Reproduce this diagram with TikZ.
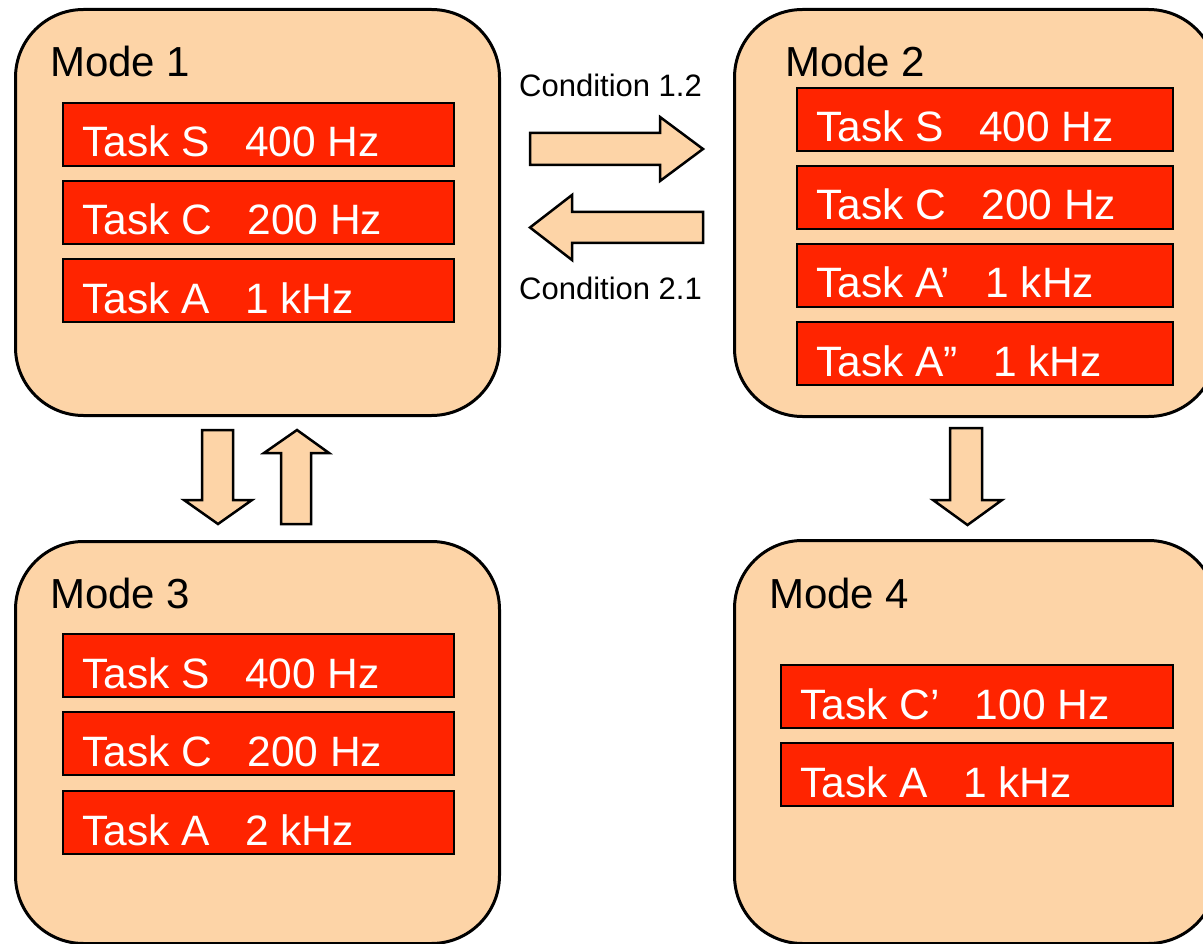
\documentclass[tikz,border=0pt]{standalone}
\usepackage{fontspec}
\setmainfont{Liberation Sans}
\definecolor{peach}{RGB}{253,212,167}
\definecolor{taskred}{RGB}{255,36,0}
\tikzset{
  modebox/.style={draw=black, fill=peach, line width=3pt, rounded corners=68pt, anchor=north west, inner sep=0pt},
  modelabel/.style={anchor=base west, inner sep=0pt, font=\fontsize{42}{50}\selectfont},
  taskbox/.style={draw=black, fill=taskred, line width=2pt, minimum height=63pt, anchor=north west, inner sep=0pt},
  tasktext/.style={anchor=base west, inner sep=0pt, text=white, font=\fontsize{42.5}{50}\selectfont},
  condlabel/.style={anchor=base west, inner sep=0pt, font=\fontsize{31}{36}\selectfont},
  blockarrow/.style={draw=black, fill=peach, line width=2.5pt, line join=miter}
}
\newcommand{\taskbox}[5]{%
  \node[taskbox, minimum width=#4pt] (#1) at (#2,#3) {};
  \node[tasktext] (#1t) at ([shift={(20,-10)}]#1.south west) {#5};
}
\begin{document}
\begin{tikzpicture}[x=1pt,y=-1pt]
\useasboundingbox (0,0) rectangle (1203,944);
\clip (0,0) rectangle (1203,944);
\fill[white] (0,0) rectangle (1203,944);

% mode boxes
\node[modebox, minimum width=484pt, minimum height=406pt] (m1) at (14,8) {};
\node[modebox, minimum width=482pt, minimum height=407pt] (m2) at (733,8) {};
\node[modebox, minimum width=484pt, minimum height=402pt] (m3) at (14,540) {};
\node[modebox, minimum width=482pt, minimum height=403pt] (m4) at (733,539) {};

\node[modelabel] (m1l) at (50,77) {Mode 1};
\node[modelabel] (m2l) at (785,77) {Mode 2};
\node[modelabel] (m3l) at (50,608) {Mode 3};
\node[modelabel] (m4l) at (769,608) {Mode 4};

% Mode 1 tasks
\taskbox{t1s}{62}{102}{391}{Task S\ \ \ 400 Hz}
\taskbox{t1c}{62}{180}{391}{Task C\ \ \ 200 Hz}
\taskbox{t1a}{62}{258}{391}{Task A\ \ \ 1 kHz}
% Mode 2 tasks
\taskbox{t2s}{796}{87}{376}{Task S\ \ \ 400 Hz}
\taskbox{t2c}{796}{165}{376}{Task C\ \ \ 200 Hz}
\taskbox{t2a}{796}{243}{376}{Task A’\ \ \ 1 kHz}
\taskbox{t2b}{796}{321}{376}{Task A”\ \ \ 1 kHz}
% Mode 3 tasks
\taskbox{t3s}{62}{633}{391}{Task S\ \ \ 400 Hz}
\taskbox{t3c}{62}{711}{391}{Task C\ \ \ 200 Hz}
\taskbox{t3a}{62}{790}{391}{Task A\ \ \ 2 kHz}
% Mode 4 tasks
\taskbox{t4c}{780}{664}{392}{Task C’\ \ \ 100 Hz}
\taskbox{t4a}{780}{742}{392}{Task A\ \ \ 1 kHz}

% transitions
\draw[blockarrow] (530,133) -- (660,133) -- (660,117) -- (703,149) -- (660,181) -- (660,165) -- (530,165) -- cycle;
\draw[blockarrow] (703,212) -- (572,212) -- (572,195) -- (530,227.5) -- (572,260) -- (572,243) -- (703,243) -- cycle;
\node[condlabel] (c12) at (519,97) {Condition 1.2};
\node[condlabel] (c21) at (519,300) {Condition 2.1};

\draw[blockarrow] (202,430) -- (233,430) -- (233,500) -- (252,500) -- (218,524) -- (184,500) -- (202,500) -- cycle;
\draw[blockarrow] (281,524) -- (311,524) -- (311,453) -- (329,453) -- (297,430) -- (264,453) -- (281,453) -- cycle;
\draw[blockarrow] (950,428) -- (982,428) -- (982,500) -- (1002,500) -- (967.5,525) -- (933,500) -- (950,500) -- cycle;
\end{tikzpicture}
\end{document}
